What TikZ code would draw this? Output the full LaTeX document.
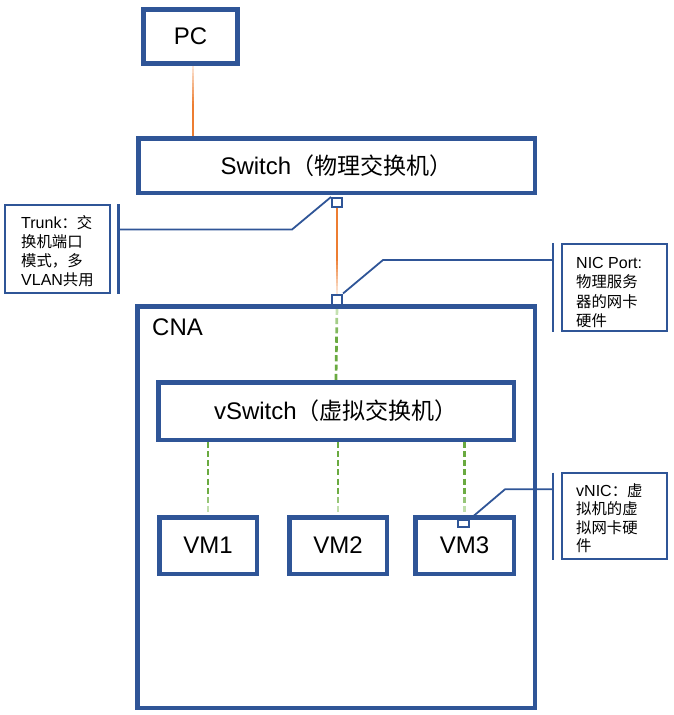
\documentclass[tikz,border=0pt]{standalone}
\usepackage{fontspec}
\setmainfont{Liberation Sans}
\newfontfamily\cjk[Scale=0.96]{Noto Sans CJK SC}
\usetikzlibrary{calc,backgrounds}
\definecolor{bl}{HTML}{2F5597}
\definecolor{org}{HTML}{ED7D31}
\definecolor{orgl}{HTML}{FCE9DC}
\definecolor{grn}{HTML}{6AAA40}
\definecolor{grnl}{HTML}{D5EBC6}
% from, to, dark, light, fade start, segments, on-fraction
\newcommand{\fadeline}[7]{%
  \foreach \i in {1,...,#6}{%
    \pgfmathsetmacro\ta{(\i-1)/#6}%
    \pgfmathsetmacro\tb{min(1,(\i-1+#7)/#6)}%
    \pgfmathsetmacro\tm{(\i-0.5)/#6}%
    \pgfmathsetmacro\pc{max(0,min(100,100*(1-\tm)/(1-#5)))}%
    \draw[conn, draw=#3!\pc!#4] ($(#1)!\ta!(#2)$) -- ($(#1)!\tb!(#2)$);
  }%
}
\tikzset{
  box/.style={draw=bl, line width=4.5pt, fill=white, inner sep=0pt, font=\fontsize{24}{28}\selectfont},
  frame/.style={draw=bl, line width=4.5pt, inner sep=0pt},
  port/.style={draw=bl, line width=2pt, fill=white, inner sep=0pt},
  callbox/.style={draw=bl, line width=2.25pt, inner sep=0pt},
  callbar/.style={draw=bl, line width=2.6pt},
  lead/.style={draw=bl, line width=1.8pt},
  ctext/.style={anchor=base west, inner sep=0pt, font=\fontsize{16}{19.5}\selectfont},
  conn/.style={line width=2.2pt},
  gconn/.style={line width=2.7pt},
}
\begin{document}
\begin{tikzpicture}[x=1pt, y=-1pt]
\useasboundingbox (0,0) rectangle (674,715);

% main boxes
\node[box, minimum width=94pt, minimum height=54pt] (pc) at (190.5,36.5) {PC};
\node[box, minimum width=396.5pt, minimum height=54.5pt] (sw) at (336.5,165.5) {Switch{\cjk（物理交换机）}};
\node[frame, minimum width=397.5pt, minimum height=401.5pt] (cna) at (336,507) {};
\node[anchor=base west, inner sep=0pt, font=\fontsize{24}{28}\selectfont] (cnal) at (152,335) {CNA};
\node[box, minimum width=355.5pt, minimum height=57.5pt] (vsw) at (336,411) {vSwitch{\cjk（虚拟交换机）}};
\node[box, minimum width=97.5pt, minimum height=56.5pt] (vm1) at (208,545.5) {VM1};
\node[box, minimum width=97.5pt, minimum height=56.5pt] (vm2) at (338,545.5) {VM2};
\node[box, minimum width=98.5pt, minimum height=56.5pt] (vm3) at (464.5,545.5) {VM3};

% ports
\node[port, minimum width=10pt, minimum height=9pt] (p1) at (337,202.5) {};
\node[port, minimum width=10pt, minimum height=10pt] (p2) at (337,299.5) {};
\node[port, minimum width=11pt, minimum height=7pt] (vn) at (463.5,523.5) {};

% connectors (behind)
\coordinate (pcb) at ($(pc.south)+(2.5,0)$);
\coordinate (swtop) at (sw.north -| pcb);
\coordinate (v1) at (vsw.south -| vm1.north);
\coordinate (v2) at (vsw.south -| vm2.north);
\coordinate (v3) at (vsw.south -| vm3.north);
\begin{scope}[on background layer]
  \fadeline{swtop}{pcb}{org}{orgl}{0.45}{20}{1.6}
  \fadeline{p1.south}{p2.north}{org}{orgl}{0.6}{24}{1.6}
  \begin{scope}[conn/.style={gconn}]
  \fadeline{vsw.north}{p2.south}{grn}{grnl}{0.6}{8}{0.66}
  \fadeline{v1}{vm1.north}{grn}{grnl}{0.68}{8}{0.66}
  \fadeline{v2}{vm2.north}{grn}{grnl}{0.68}{8}{0.66}
  \fadeline{v3}{vm3.north}{grn}{grnl}{0.68}{8}{0.66}
  \end{scope}
\end{scope}

% callout: Trunk
\node[callbox, minimum width=105pt, minimum height=87.5pt] (tkbox) at (57.8,249) {};
\coordinate (tkb1) at (118.7,204);
\coordinate (tkb2) at (118.7,294);
\draw[callbar] (tkb1) -- (tkb2);
\coordinate (tk) at (118.7,229.5);
\coordinate (tkbend) at (292,229.5);
\draw[lead] (tk) -- (tkbend) -- (p1.north west);
\node[ctext] (tk1) at (21,228) {Trunk{\cjk：交}};
\node[ctext] (tk2) at (21,247.3) {\cjk 换机端口};
\node[ctext] (tk3) at (21,266.6) {\cjk 模式，多};
\node[ctext] (tk4) at (21,285.9) {VLAN{\cjk 共用}};

% callout: NIC Port
\node[callbox, minimum width=105pt, minimum height=87pt] (nkbox) at (614.5,287.5) {};
\coordinate (nkb1) at (553,243);
\coordinate (nkb2) at (553,332);
\draw[callbar] (nkb1) -- (nkb2);
\coordinate (nk) at (553,260);
\coordinate (nkbend) at (383,260);
\draw[lead] (p2.north east) -- (nkbend) -- (nk);
\node[ctext] (nk1) at (576,268) {NIC Port:};
\node[ctext] (nk2) at (576,287.5) {\cjk 物理服务};
\node[ctext] (nk3) at (576,307) {\cjk 器的网卡};
\node[ctext] (nk4) at (576,326.5) {\cjk 硬件};

% callout: vNIC
\node[callbox, minimum width=105pt, minimum height=86pt] (vkbox) at (614.5,515.8) {};
\coordinate (vkb1) at (553,472.7);
\coordinate (vkb2) at (553,560);
\draw[callbar] (vkb1) -- (vkb2);
\coordinate (vk) at (553,489.3);
\coordinate (vkbend) at (505,489.3);
\draw[lead] (vn.north east) -- (vkbend) -- (vk);
\node[ctext] (vk1) at (576,496) {vNIC{\cjk：虚}};
\node[ctext] (vk2) at (576,514.5) {\cjk 拟机的虚};
\node[ctext] (vk3) at (576,533) {\cjk 拟网卡硬};
\node[ctext] (vk4) at (576,551.5) {\cjk 件};
\end{tikzpicture}
\end{document}
